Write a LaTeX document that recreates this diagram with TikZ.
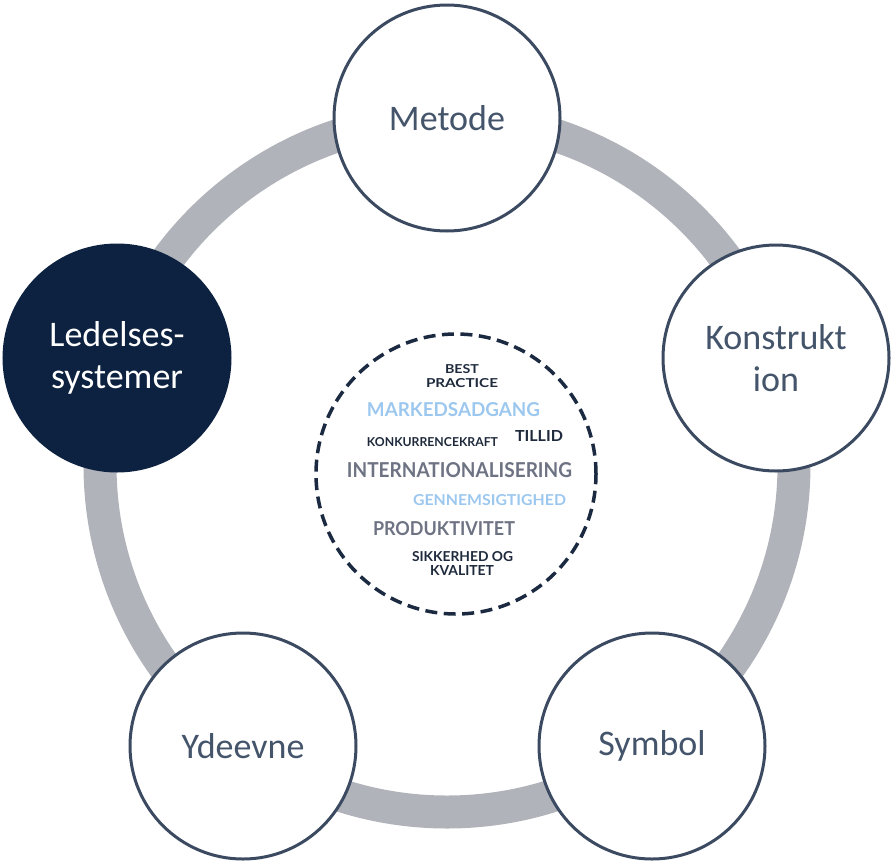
\documentclass[tikz,border=0pt]{standalone}
\usepackage{fontspec}
\setmainfont{Carlito}
\newfontfamily\cloudfont{Lato}
\usepackage{graphicx}
\definecolor{ringgray}{HTML}{B0B3B9}
\definecolor{bordercol}{HTML}{3B4A60}
\definecolor{txtcol}{HTML}{44546A}
\definecolor{navyfill}{HTML}{0D2240}
\definecolor{dashcol}{HTML}{1B2A41}
\definecolor{lightblue}{HTML}{9CC7EE}
\definecolor{midgray}{HTML}{6E7383}
\definecolor{darkword}{HTML}{1E2A3C}
\tikzset{
  bub/.style={circle, draw=bordercol, line width=3pt, fill=white, minimum size=226pt, inner sep=0pt,
    text=txtcol, align=center, font=\fontsize{36}{42}\selectfont},
  bubdark/.style={bub, fill=navyfill, draw=navyfill, text=white},
  word/.style={inner sep=0pt, font=\cloudfont\bfseries},
}
\newcommand{\cw}[3]{\resizebox{#1pt}{#2pt}{#3}}
\begin{document}
\begin{tikzpicture}[x=1pt,y=-1pt]
\useasboundingbox (0,0) rectangle (891,865);
\coordinate (ctr) at (447,465);
\draw[ringgray, line width=33pt] (ctr) circle[radius=347pt];
\node[bub] (metode) at (447,118) {Metode};
\node[bub] (konstr) at (776,358) {Konstrukt\\ion};
\node[bub] (symbol) at (652,746) {Symbol};
\node[bub] (ydeevne) at (243,746) {Ydeevne};
\node[bubdark] (ledelse) at (117,358) {Ledelses-\\systemer};
\node[circle, draw=dashcol, dashed, dash pattern=on 12pt off 6.5pt, line width=3.5pt, minimum size=280pt, inner sep=0pt] (cloud) at (456,474) {};
\node[word, text=darkword] (best) at (462,369.5) {\cw{34}{9}{BEST}};
\node[word, text=darkword] (practice) at (462,383.5) {\cw{72}{9}{PRACTICE}};
\node[word, text=lightblue] (marked) at (453.5,410) {\cw{173}{14}{MARKEDSADGANG}};
\node[word, text=darkword] (konk) at (432.5,442) {\cw{131}{9}{KONKURRENCEKRAFT}};
\node[word, text=darkword] (tillid) at (539,436) {\cw{48}{11}{TILLID}};
\node[word, text=midgray] (intl) at (459.5,470) {\cw{225}{15}{INTERNATIONALISERING}};
\node[word, text=lightblue] (genn) at (489.5,500) {\cw{153}{11}{GENNEMSIGTIGHED}};
\node[word, text=midgray] (prod) at (444,529) {\cw{142}{14}{PRODUKTIVITET}};
\node[word, text=darkword] (sikk) at (462.5,557) {\cw{101}{10}{SIKKERHED OG}};
\node[word, text=darkword] (kval) at (462,570.5) {\cw{64}{10}{KVALITET}};
\end{tikzpicture}
\end{document}
